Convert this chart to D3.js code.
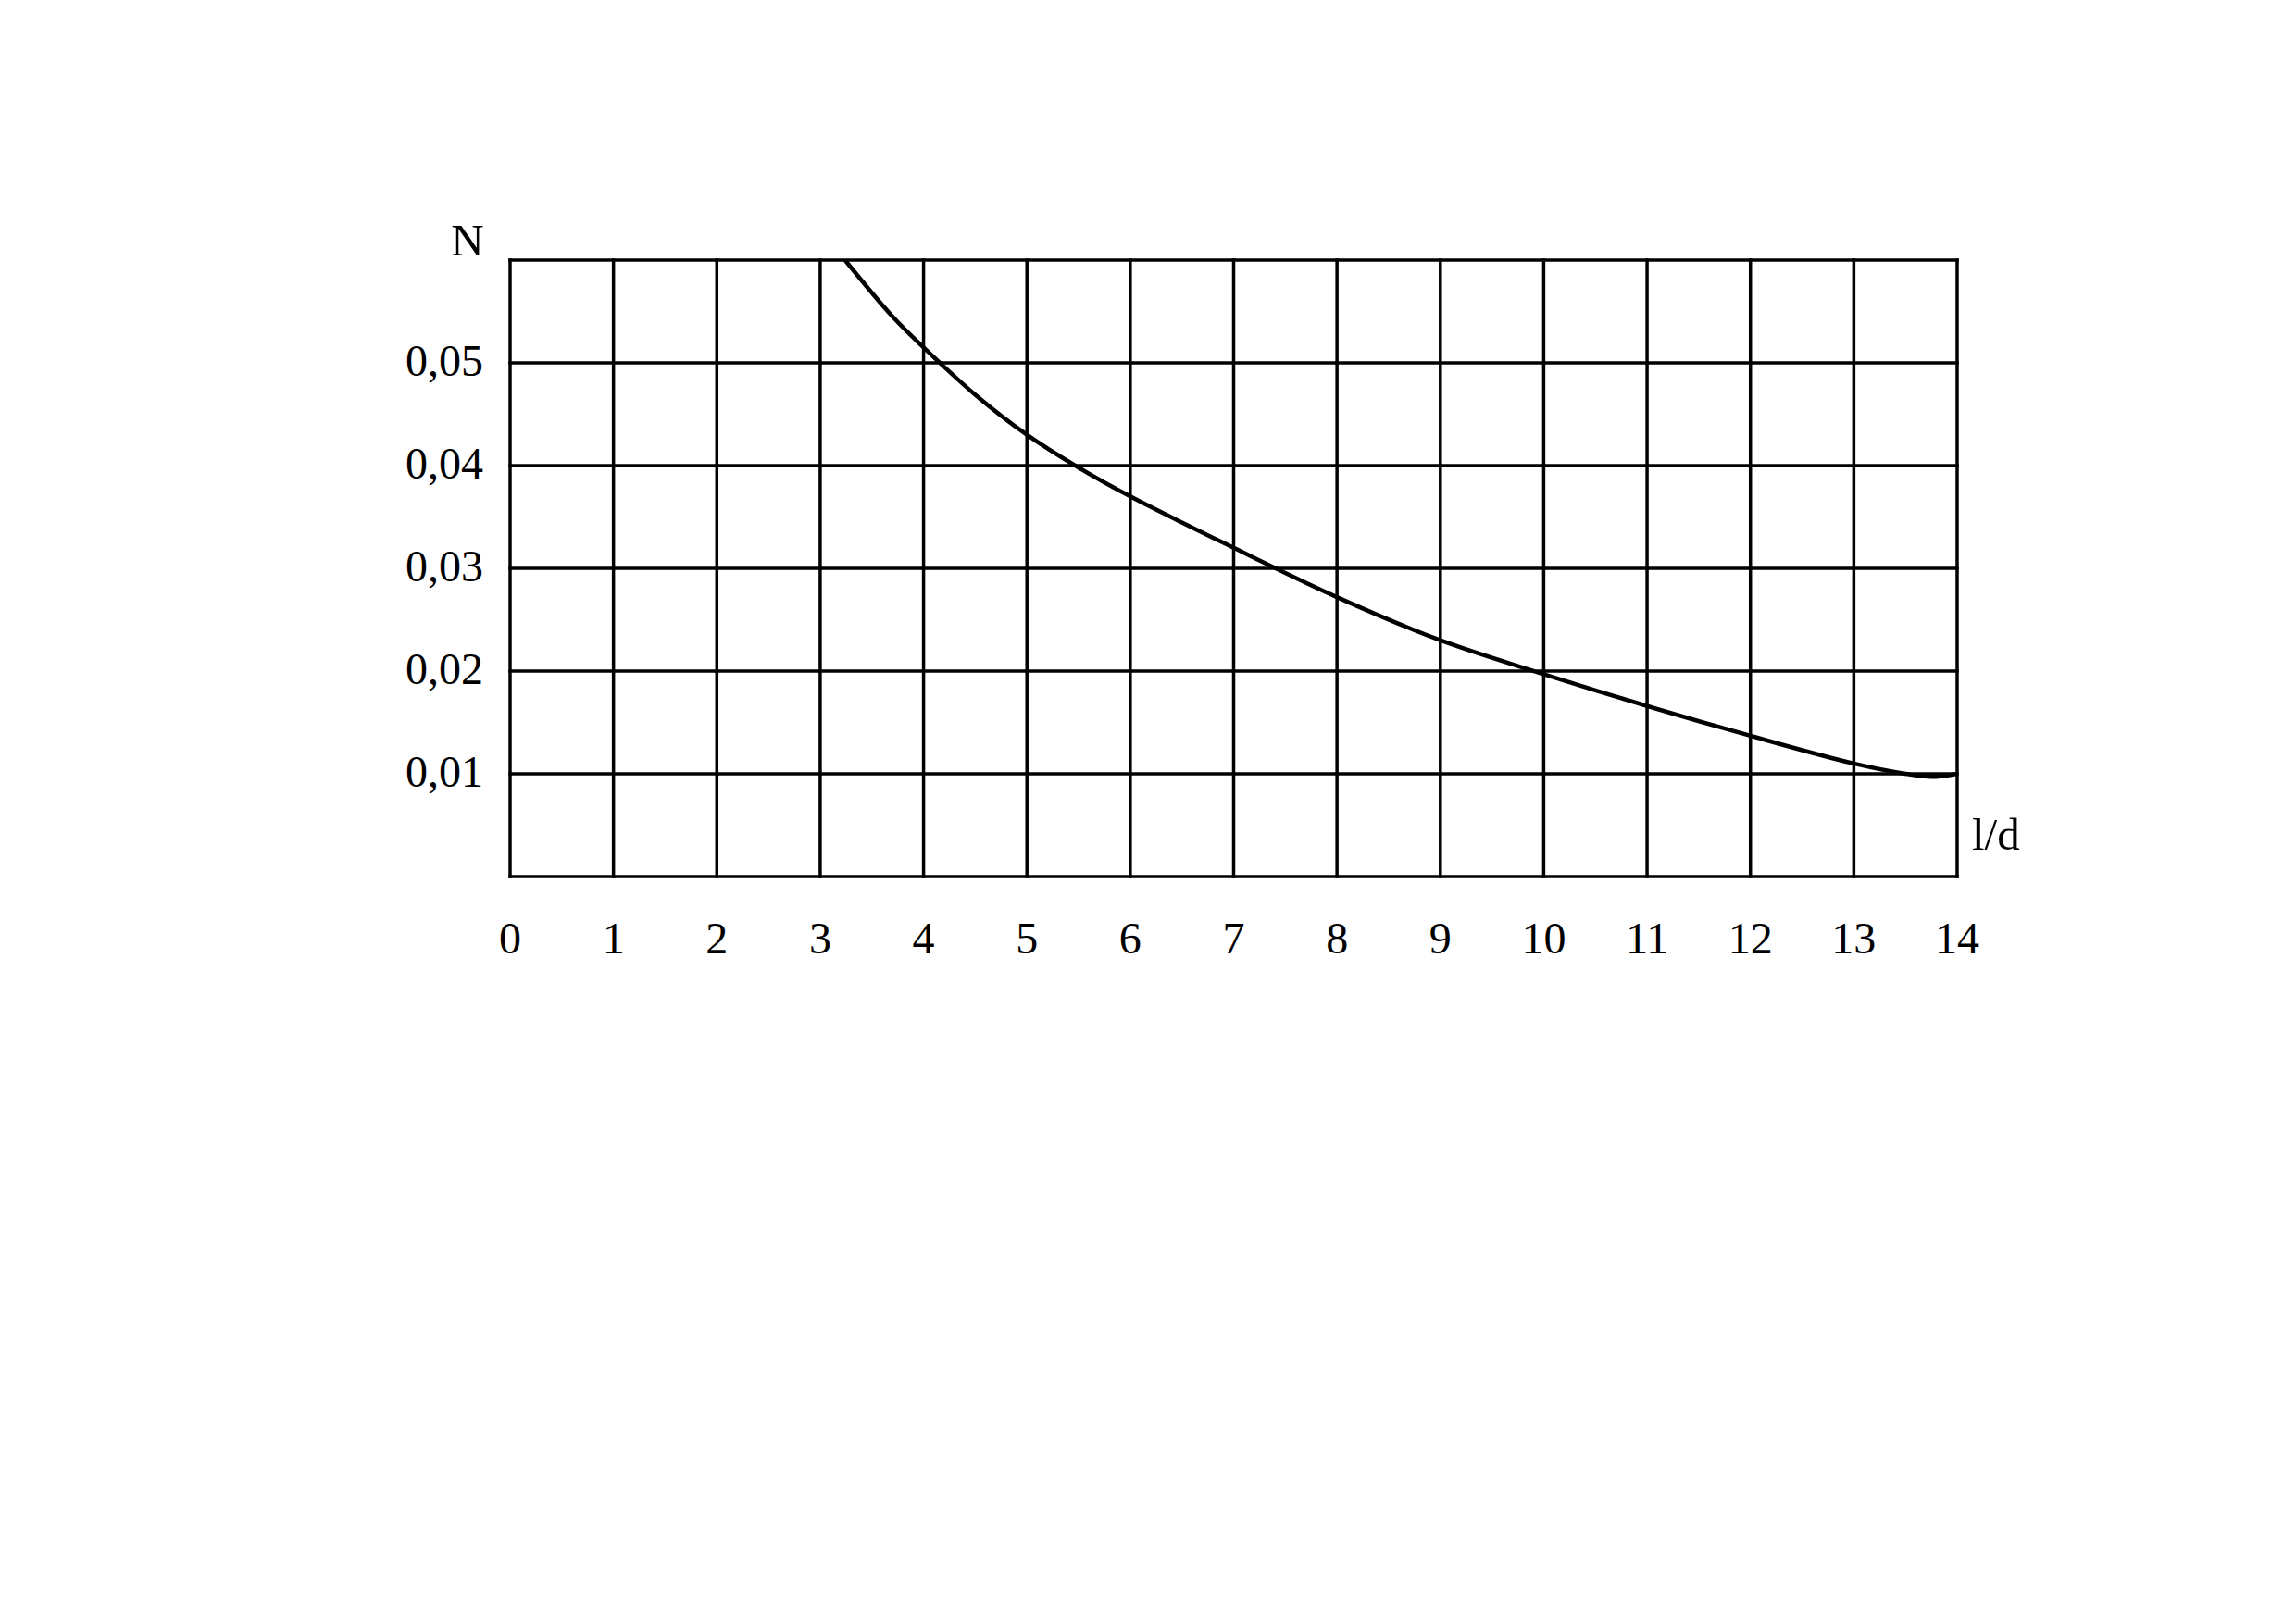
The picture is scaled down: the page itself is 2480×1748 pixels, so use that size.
<!DOCTYPE html>
<html>
<head>
<meta charset="utf-8">
<script src="https://cdn.jsdelivr.net/npm/d3@7"></script>
<style>
  html, body { margin: 0; padding: 0; background: #fff; }
  svg { display: block; }
  text { font-family: "Liberation Serif", "DejaVu Serif", serif; fill: #000; }
</style>
</head>
<body>
<svg id="chart" width="2480" height="1748"></svg>
<script>
// ---- data ----
const xTicks = [0, 1, 2, 3, 4, 5, 6, 7, 8, 9, 10, 11, 12, 13, 14];
const xTickLabels = ["0","1","2","3","4","5","6","7","8","9","10","11","12","13","14"];
const yTicks = [0.01, 0.02, 0.03, 0.04, 0.05];
const yTickLabels = ["0,01", "0,02", "0,03", "0,04", "0,05"];
const yGrid = [0, 0.01, 0.02, 0.03, 0.04, 0.05, 0.06];
const ldValues = [3.24, 3.7, 4.0, 4.5, 5.0, 5.5, 6, 7, 8, 9, 10, 11, 12, 13, 13.5, 13.75, 14];
const nValues  = [0.060, 0.0545, 0.0515, 0.0469, 0.0430, 0.0398, 0.037, 0.032, 0.0272, 0.0230, 0.0197, 0.0166, 0.0137, 0.0110, 0.0100, 0.0097, 0.0100];
const yAxisTitle = "N";
const xAxisTitle = "l/d";

// ---- layout ----
const svg = d3.select("#chart");
const mLeft = 551, mRight = 2114, mTop = 281, mBottom = 947;

const x = d3.scaleLinear().domain([0, 14]).range([mLeft, mRight]);
const y = d3.scaleLinear().domain([0, 0.06]).range([mBottom, mTop]);

const g = svg.append("g");

// vertical grid lines
g.selectAll("line.vgrid").data(xTicks).enter().append("line")
  .attr("class", "vgrid")
  .attr("x1", d => x(d)).attr("x2", d => x(d))
  .attr("y1", y(0)).attr("y2", y(0.06))
  .attr("stroke", "#000").attr("stroke-width", 3.5)
  .attr("stroke-linecap", "square");

// horizontal grid lines
g.selectAll("line.hgrid").data(yGrid).enter().append("line")
  .attr("class", "hgrid")
  .attr("x1", x(0)).attr("x2", x(14))
  .attr("y1", d => y(d)).attr("y2", d => y(d))
  .attr("stroke", "#000").attr("stroke-width", 3.5)
  .attr("stroke-linecap", "square");

// curve
const line = d3.line()
  .x((d, i) => x(ldValues[i]))
  .y(d => y(d))
  .curve(d3.curveCatmullRom.alpha(0.5));

g.append("path")
  .datum(nValues)
  .attr("d", line)
  .attr("fill", "none")
  .attr("stroke", "#000")
  .attr("stroke-width", 4.5)
  .attr("stroke-linejoin", "round");

// x tick labels
g.selectAll("text.xt").data(xTicks).enter().append("text")
  .attr("class", "xt")
  .attr("x", d => x(d))
  .attr("y", 1030)
  .attr("text-anchor", "middle")
  .attr("font-size", 48)
  .text((d, i) => xTickLabels[i]);

// y tick labels
g.selectAll("text.yt").data(yTicks).enter().append("text")
  .attr("class", "yt")
  .attr("x", mLeft - 29)
  .attr("y", d => y(d))
  .attr("dy", "0.3em")
  .attr("text-anchor", "end")
  .attr("font-size", 48)
  .text((d, i) => yTickLabels[i]);

// axis titles
g.append("text")
  .attr("x", 505).attr("y", 276)
  .attr("text-anchor", "middle")
  .attr("font-size", 49)
  .text(yAxisTitle);

g.append("text")
  .attr("x", 2130).attr("y", 918)
  .attr("text-anchor", "start")
  .attr("font-size", 49)
  .text(xAxisTitle);
</script>
</body>
</html>
